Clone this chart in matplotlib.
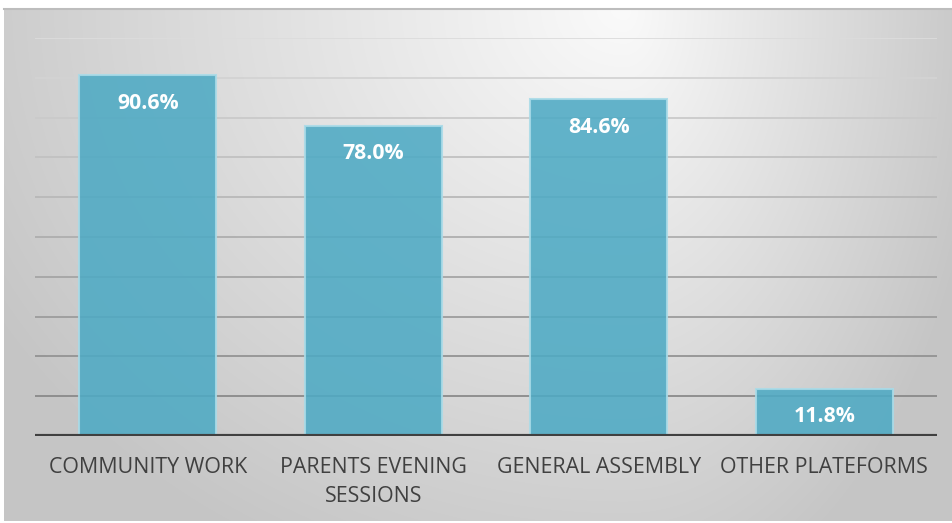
import numpy as np
import matplotlib.pyplot as plt
from matplotlib.colors import to_rgb

categories = ["COMMUNITY WORK", "PARENTS EVENING\nSESSIONS", "GENERAL ASSEMBLY", "OTHER PLATEFORMS"]
values = [90.6, 78.0, 84.6, 11.8]
grid_values = [10, 20, 30, 40, 50, 60, 70, 80, 90, 100]

W, H, DPI = 953, 523, 100
fig = plt.figure(figsize=(W / DPI, H / DPI), dpi=DPI)
fig.patch.set_facecolor("white")

# soft grey radial background behind the whole chart
bg = fig.add_axes([4 / W, 2 / H, 949 / W, 513 / H])
bg.set_axis_off()
yy, xx = np.mgrid[0:513, 0:949]
cx, cy = 620, 0
rx = np.where(xx > cx, 320.0, 640.0)
r = np.sqrt(((xx - cx) / rx) ** 2 + ((yy - cy) / 540.0) ** 2)
t = np.clip(r, 0, 1.15)
shade = (250 - 46 * t) / 255.0
bg.imshow(np.dstack([shade] * 3), aspect="auto", interpolation="bilinear")
# thin border on top of the chart area
fig.add_artist(plt.Line2D([4 / W, 1], [1 - 8.5 / H, 1 - 8.5 / H], color="#bdbdbd", lw=1.5,
                          transform=fig.transFigure))

# plot area
x0, x1 = 35, 937
ytop, ybot = 38, 436
ax = fig.add_axes([x0 / W, 1 - ybot / H, (x1 - x0) / W, (ybot - ytop) / H])
ax.patch.set_alpha(0)
ax.set_xlim(-0.5, len(categories) - 0.5)
ax.set_ylim(0, 100)

light = np.array(to_rgb("#dcdcdc"))
dark = np.array(to_rgb("#8a8a8a"))
for g in grid_values:
    f = (g - grid_values[0]) / (grid_values[-1] - grid_values[0])
    ax.axhline(g, color=dark + (light - dark) * f, lw=1.3, zorder=1)

x = np.arange(len(categories))
bars = ax.bar(x, values, width=0.607, color="#4eaac4", alpha=0.88,
              edgecolor="#a9dbe8", linewidth=1.5, zorder=2)

for xi, v in zip(x, values):
    ax.annotate(f"{v:.1f}%", (xi, v), xytext=(0, -20), textcoords="offset points",
                ha="center", va="center", color="white", fontsize=15.3,
                fontweight="bold", fontfamily="Open Sans", zorder=3)

ax.axhline(0, color="#404040", lw=3, zorder=4, solid_capstyle="butt")

ax.set_xticks(x)
ax.set_xticklabels(categories, fontfamily="Open Sans", fontsize=15.4, color="#404040",
                   linespacing=1.5)
ax.tick_params(axis="x", length=0, pad=15)
ax.set_yticks([])
for s in ax.spines.values():
    s.set_visible(False)

fig.savefig("out.png", dpi=DPI)
